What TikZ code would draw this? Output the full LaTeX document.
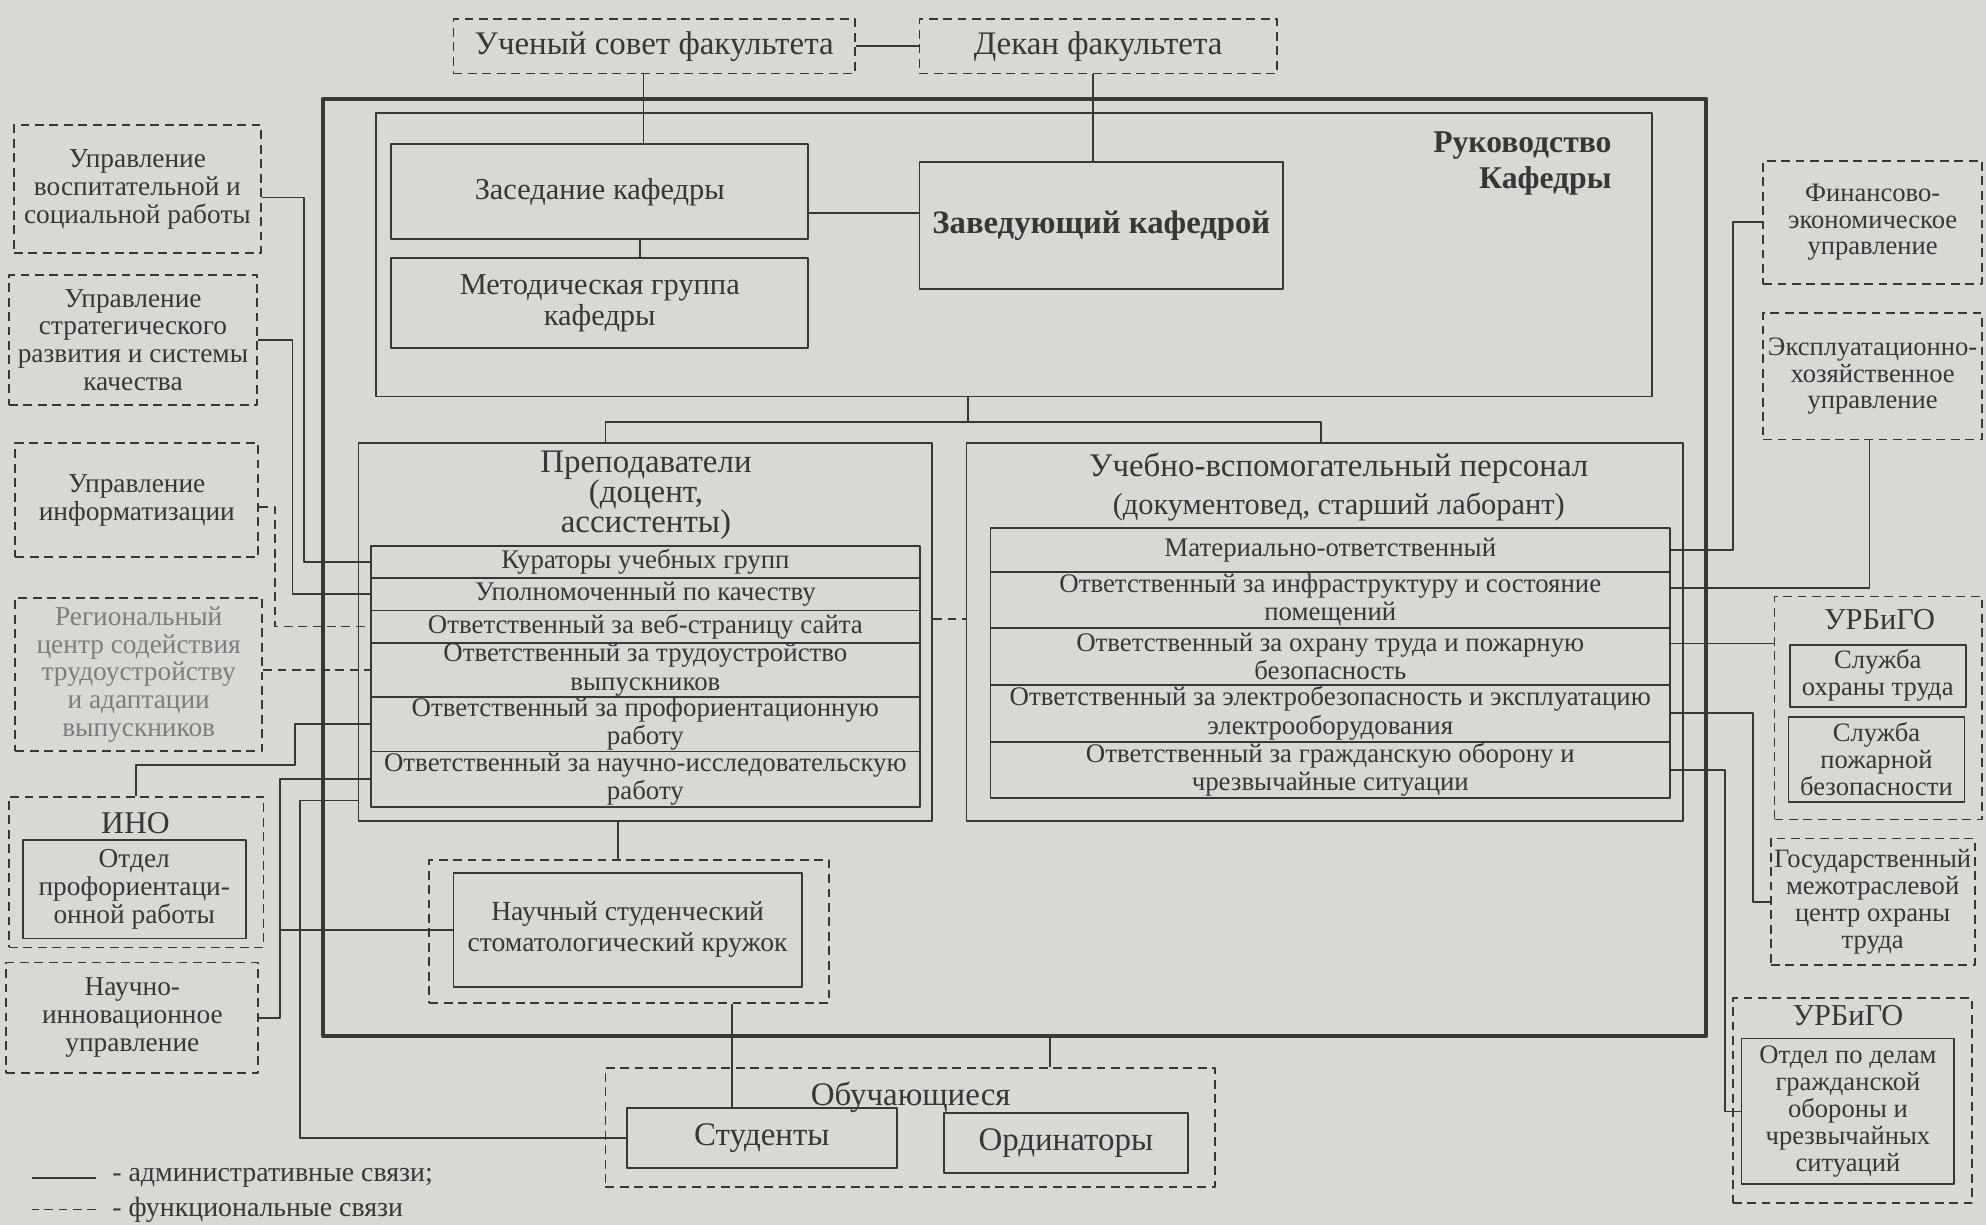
\documentclass[tikz,border=0pt]{standalone}
\usepackage{fontspec}
\setmainfont{Liberation Serif}
\definecolor{paper}{RGB}{216,217,213}
\definecolor{ink}{RGB}{55,55,55}
\definecolor{fade}{RGB}{125,125,125}
\begin{document}
\begin{tikzpicture}[x=0.5pt, y=-0.5pt, color=ink, line width=0.7pt, line join=round,
	spanbox/.style n args={4}{minimum width={(#3-#1)*0.5pt}, minimum height={(#4-#2)*0.5pt}, at={({(#1+#3)/2},{(#2+#4)/2})}},
	solidbox/.style={draw, inner sep=0pt, align=center, font=\fontsize{10.8}{11}\selectfont},
	dashbox/.style={solidbox, dash pattern=on 3.5pt off 2.2pt},
	rowbox/.style={solidbox, font=\fontsize{10.6}{11.2}\selectfont},
	sidebox/.style={font=\fontsize{10.5}{10.6}\selectfont},
	bigtext/.style={font=\fontsize{13}{13}\selectfont},
	func/.style={dash pattern=on 3.5pt off 2.2pt}]
	\path[use as bounding box, fill=paper] (0,0) rectangle (1568,967);
	\node[dashbox, bigtext, spanbox={358}{15}{675}{58}] (sovet) {Ученый совет факультета};
	\node[dashbox, bigtext, spanbox={726}{15}{1008}{58}] (dekan) {Декан факультета};
	\node[draw, line width=1.6pt, inner sep=0pt, spanbox={255}{78}{1347}{818}] (kafedra) {};
	\node[solidbox, spanbox={297}{89}{1304}{313}] (rukov) {};
	\node[anchor=north east, align=right, inner sep=0pt, font=\fontsize{12.5}{14.5}\selectfont\bfseries] (rukovlbl) at (1273,103) {Руководство\\Кафедры};
	\node[solidbox, font=\fontsize{12}{12.5}\selectfont, spanbox={309}{114}{638}{189}] (zased) {Заседание кафедры};
	\node[solidbox, font=\fontsize{12}{12.5}\selectfont, spanbox={309}{204}{638}{275}] (metod) {Методическая группа\\кафедры};
	\node[solidbox, font=\fontsize{12.9}{14}\selectfont\bfseries, spanbox={726}{128}{1013}{228}] (zav) {Заведующий кафедрой};
	\node[solidbox, spanbox={283}{350}{736}{648}] (prep) {};
	\node[anchor=north, align=center, inner sep=0pt, font=\fontsize{13}{12}\selectfont] (preptl) at (510,355) {Преподаватели\\(доцент,\\ассистенты)};
	\foreach \ya/\yb/\txt [count=\i] in {431/456.5/{Кураторы учебных групп},
		456.5/482/{Уполномоченный по качеству},
		482/507.4/{Ответственный за веб-страницу сайта},
		507.4/550/{Ответственный за трудоустройство\\выпускников},
		550/593.4/{Ответственный за профориентационную\\работу},
		593.4/637/{Ответственный за научно-исследовательскую\\работу}}
		\node[rowbox, spanbox={292.7}{\ya}{726.4}{\yb}] (p\i) {\txt};
	\node[solidbox, spanbox={763}{350}{1329}{648}] (uvp) {};
	\node[anchor=north, align=center, inner sep=0pt, font=\fontsize{13}{15}\selectfont] (uvptl) at (1057,357) {Учебно-вспомогательный персонал\\{\fontsize{12}{15}\selectfont(документовед, старший лаборант)}};
	\foreach \ya/\yb/\txt [count=\i] in {417/451.4/{Материально-ответственный},
		451.4/496/{Ответственный за инфраструктуру и состояние\\помещений},
		496/540.6/{Ответственный за охрану труда и пожарную\\безопасность},
		540.6/585.6/{Ответственный за электробезопасность и эксплуатацию\\электрооборудования},
		585.6/630/{Ответственный за гражданскую оборону и\\чрезвычайные ситуации}}
		\node[rowbox, spanbox={782}{\ya}{1318.6}{\yb}] (u\i) {\txt};
	\node[dashbox, spanbox={339}{679}{654.5}{792}] (kruzh) {};
	\node[solidbox, font=\fontsize{10.9}{12.5}\selectfont, spanbox={358}{689}{633}{779}] (kruzhok) {Научный студенческий\\стоматологический кружок};
	\node[dashbox, spanbox={478}{843}{959}{937}] (obuch) {};
	\node[bigtext, inner sep=0pt] (obuchtl) at (719,866) {Обучающиеся};
	\node[solidbox, bigtext, spanbox={495}{875}{708}{922}] (stud) {Студенты};
	\node[solidbox, bigtext, spanbox={745}{879}{938}{926}] (ordin) {Ординаторы};
	\node[dashbox, spanbox={11}{99}{206}{200}] (vosp) {Управление\\воспитательной и\\социальной работы};
	\node[dashbox, spanbox={7}{217}{203}{320}] (strat) {Управление\\стратегического\\развития и системы\\качества};
	\node[dashbox, spanbox={12}{350}{204}{440}] (inform) {Управление\\информатизации};
	\node[dashbox, text=fade, spanbox={12}{472}{207}{593}] (region) {Региональный\\центр содействия\\трудоустройству\\и адаптации\\выпускников};
	\node[dashbox, spanbox={7}{629}{208}{748}] (ino) {};
	\node[font=\fontsize{12.5}{12.5}\selectfont, inner sep=0pt] (inotl) at (107,650) {ИНО};
	\node[solidbox, spanbox={18}{663}{194}{741}] (inootd) {Отдел\\профориентаци-\\онной работы};
	\node[dashbox, spanbox={5}{760}{204}{847}] (nauchinn) {Научно-\\инновационное\\управление};
	\node[dashbox, sidebox, spanbox={1392}{127}{1565}{224}] (finans) {Финансово-\\экономическое\\управление};
	\node[dashbox, sidebox, spanbox={1392}{247}{1565}{347}] (expl) {Эксплуатационно-\\хозяйственное\\управление};
	\node[dashbox, spanbox={1401}{471}{1565}{647}] (urbigo1) {};
	\node[font=\fontsize{12}{12}\selectfont, inner sep=0pt] (urbigo1tl) at (1484,489) {УРБиГО};
	\node[solidbox, sidebox, spanbox={1413}{509}{1552}{558}] (ohrana) {Служба\\охраны труда};
	\node[solidbox, sidebox, spanbox={1412}{566}{1551}{633}] (pozhar) {Служба\\пожарной\\безопасности};
	\node[dashbox, sidebox, spanbox={1398}{662}{1559}{762}] (gosc) {Государственный\\межотраслевой\\центр охраны\\труда};
	\node[dashbox, spanbox={1368}{788}{1557}{950}] (urbigo2) {};
	\node[font=\fontsize{12}{12}\selectfont, inner sep=0pt] (urbigo2tl) at (1459,802) {УРБиГО};
	\node[solidbox, sidebox, spanbox={1375}{820}{1543}{935}] (otdgo) {Отдел по делам\\гражданской\\обороны и\\чрезвычайных\\ситуаций};
	\node[anchor=west, inner sep=0pt, font=\fontsize{11}{11}\selectfont] (legadm) at (88,930) {- административные связи;};
	\node[anchor=west, inner sep=0pt, font=\fontsize{11}{11}\selectfont] (legfun) at (88,955) {- функциональные связи};
	\draw (legadm.west) ++(-12,0) -- ++(-51,0);
	\draw[func] (legfun.west) ++(-12,0) -- ++(-51,0);
	\draw (sovet.east) -- (dekan.west);
	\draw (sovet.south -| 508,0) -- (zased.north -| 508,0);
	\draw (dekan.south -| 863,0) -- (zav.north -| 863,0);
	\draw (zased.east |- 0,168) -- (zav.west |- 0,168);
	\draw (zased.south -| 505,0) -- (metod.north -| 505,0);
	\draw (rukov.south -| 764,0) -- (764,333);
	\draw (prep.north -| 478,0) -- (478,333) -- (1043,333) -- (uvp.north -| 1043,0);
	\draw[func] (prep.east |- 0,489) -- (uvp.west |- 0,489);
	\draw (prep.south -| 488,0) -- (kruzh.north -| 488,0);
	\draw (kruzh.south -| 578,0) -- (stud.north -| 578,0);
	\draw (kafedra.south -| 829,0) -- (obuch.north -| 829,0);
	\draw (vosp.east |- 0,156) -| (240,0 |- p1.west) -- (p1.west);
	\draw (strat.east) -| (231,0 |- p2.west) -- (p2.west);
	\draw[func] (inform.east |- 0,400) -| (217,0 |- p3.west) -- (p3.west);
	\draw[func] (region.east |- p4.west) -- (p4.west);
	\draw (p5.west) -| (233,604) -| (ino.north);
	\draw (p6.west) -| (221,0 |- nauchinn.east) -- (nauchinn.east);
	\draw (kruzhok.west) -- (kruzhok.west -| 221,0);
	\draw (prep.west |- 0,632) -| (237,0 |- stud.west) -- (stud.west);
	\draw (u1.east) -| (1368,0 |- finans.west) -- (finans.west);
	\draw (u2.east |- 0,464) -| (expl.south -| 1476,0);
	\draw (u3.east |- 0,508) -- (urbigo1.west |- 0,508);
	\draw (u4.east) -| (1384,0 |- gosc.west) -- (gosc.west);
	\draw (u5.east) -| (1362,0 |- otdgo.west) -- (otdgo.west);
\end{tikzpicture}
\end{document}
